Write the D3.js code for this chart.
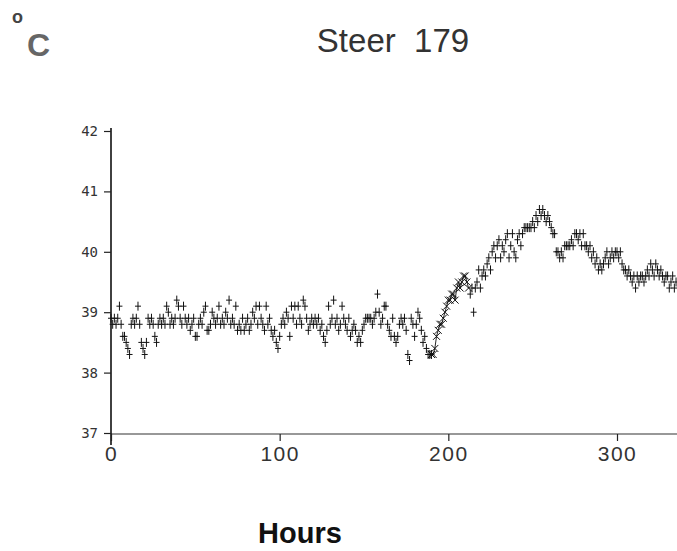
<!DOCTYPE html>
<html>
<head>
<meta charset="utf-8">
<script src="https://cdn.jsdelivr.net/npm/d3@7/dist/d3.min.js"></script>
<style>
  html, body { margin: 0; padding: 0; background: #fff; }
  svg { display: block; }
</style>
</head>
<body>
<svg id="chart" width="677" height="551"></svg>
<script>
// Rectal temperature of steer 179, hourly readings (°C)
const tempDay0  = [38.9,38.8,38.9,38.8,38.9,39.1,38.8,38.6,38.6,38.5,38.4,38.3,38.8,38.9,38.8,38.9,39.1,38.8,38.5,38.4,38.3,38.5,38.9,38.8];
const tempDay1  = [38.9,38.8,38.6,38.5,38.8,38.9,38.8,38.9,38.8,39.1,39.0,38.8,38.9,38.8,38.9,39.2,39.1,38.9,38.8,39.1,38.9,38.8,38.9,38.7];
const tempDay2  = [38.8,38.9,38.6,38.6,38.8,38.9,38.8,39.0,39.1,38.7,38.7,38.8,39.0,38.9,38.8,38.9,39.1,38.8,38.9,38.8,39.0,38.9,39.2,38.8];
const tempDay3  = [38.9,38.8,39.1,38.7,38.8,38.7,38.9,38.7,38.8,38.9,38.7,38.8,39.0,38.9,39.1,38.8,39.1,38.9,38.8,38.7,39.1,38.8,38.9,38.7];
const tempDay4  = [38.6,38.7,38.5,38.4,38.6,38.8,38.9,38.8,39.0,38.9,38.6,39.1,38.9,39.1,38.8,39.1,38.9,38.8,39.2,39.1,38.9,38.7,38.8,38.9];
const tempDay5  = [38.8,38.9,38.8,38.9,38.7,38.8,38.6,38.5,38.7,39.1,38.8,38.9,39.2,38.8,38.9,38.7,38.8,39.1,38.9,38.8,38.7,38.9,38.6,38.7];
const tempDay6  = [38.8,38.7,38.5,38.6,38.5,38.7,38.8,38.9,38.9,38.9,38.9,38.8,38.9,39.0,39.3,39.0,38.8,38.9,39.1,39.1,38.8,38.7,38.6,38.9];
const tempDay7  = [38.6,38.5,38.6,38.8,38.9,38.8,38.9,38.7,38.3,38.2,38.9,38.8,38.6,38.8,39.0,38.9,38.7,38.5,38.6,38.4,38.3,38.3,38.3];
// hours 213 onward
const tempLate  = [39.3,39.4,39.0,39.4,39.5,39.7,39.4,39.6,39.7,39.6,39.8,39.9,39.7,40.0,40.1,39.9,40.1,40.2,39.9,40.1,40.0,40.2,40.3,39.9,40.1,40.3,40.0,
                   39.9,40.2,40.3,40.1,40.3,40.4,40.4,40.4,40.4,40.4,40.5,40.4,40.6,40.5,40.7,40.6,40.7,40.6,40.5,40.6,40.5,40.4,40.3,40.3,
                   40.0,40.0,39.9,40.0,39.9,40.1,40.1,40.1,40.1,40.2,40.1,40.3,40.3,40.2,40.3,40.1,40.3,40.1,40.1,40.0,40.1,39.9,40.0,39.8,
                   39.9,39.7,39.8,39.7,39.8,39.9,40.0,39.8,39.9,40.0,39.9,40.0,40.0,39.9,40.0,39.8,39.7,39.7,39.6,39.7,39.6,39.5,39.6,39.4,
                   39.6,39.5,39.6,39.6,39.5,39.6,39.7,39.6,39.8,39.7,39.6,39.8,39.7,39.6,39.7,39.6,39.5,39.6,39.6,39.4,39.5,39.6,39.4,39.5];
const lateStartHour = 213;

// Onset of the febrile rise, hours 190-212, plotted with a second symbol
const riseHours = [190,191,192,193,194,195,196,197,198,199,200,201,202,203,204,205,206,207,208,209,210,211,212];
const riseTemps = [38.3,38.3,38.4,38.6,38.7,38.8,38.8,38.9,39.0,39.1,39.2,39.2,39.3,39.3,39.2,39.4,39.5,39.4,39.5,39.6,39.6,39.5,39.4];

const xTicks = [0, 100, 200, 300];
const xTickLabels = ["0", "100", "200", "300"];
const yTicks = [37, 38, 39, 40, 41, 42];
const yTickLabels = ["37", "38", "39", "40", "41", "42"];

const title = "Steer  179";
const xTitle = "Hours";

const early = [].concat(tempDay0, tempDay1, tempDay2, tempDay3, tempDay4, tempDay5, tempDay6, tempDay7);
const plusPoints = early.map((v, i) => ({ h: i, t: v }))
  .concat(tempLate.map((v, i) => ({ h: lateStartHour + i, t: v })));
const crossPoints = riseHours.map((h, i) => ({ h: h, t: riseTemps[i] }));

const svg = d3.select("#chart");

const x = d3.scaleLinear().domain([0, 300]).range([111, 617]);
const y = d3.scaleLinear().domain([37, 42]).range([433, 131]);
const xEnd = 677;

// axis lines
svg.append("line")
  .attr("x1", x(0)).attr("x2", xEnd)
  .attr("y1", y(37) + 1).attr("y2", y(37) + 1)
  .attr("stroke", "#333").attr("stroke-width", 1.1);
svg.append("line")
  .attr("x1", x(0)).attr("x2", x(0))
  .attr("y1", y(42) - 3).attr("y2", y(37) + 12)
  .attr("stroke", "#111").attr("stroke-width", 1.6);

// y axis ticks and labels
const yAxis = d3.axisLeft(y)
  .tickValues(yTicks)
  .tickSize(7)
  .tickSizeOuter(0)
  .tickPadding(6)
  .tickFormat((d, i) => yTickLabels[i]);
const gy = svg.append("g").attr("transform", `translate(${x(0)},0)`).call(yAxis);
gy.select(".domain").remove();
gy.selectAll(".tick line").attr("stroke", "#222").attr("stroke-width", 1.2);
gy.selectAll(".tick text")
  .attr("fill", "#333")
  .style("font-family", "'DejaVu Sans Mono', monospace")
  .style("font-size", "14px");

// x axis ticks and labels
const xAxis = d3.axisBottom(x)
  .tickValues(xTicks)
  .tickSize(7)
  .tickSizeOuter(0)
  .tickPadding(5)
  .tickFormat((d, i) => xTickLabels[i]);
const gx = svg.append("g").attr("transform", `translate(0,${y(37) + 1})`).call(xAxis);
gx.select(".domain").remove();
gx.selectAll(".tick line").attr("stroke", "#222").attr("stroke-width", 1.2);
gx.selectAll(".tick text")
  .attr("fill", "#333")
  .style("font-family", "'Liberation Sans', Arial, sans-serif")
  .style("font-size", "21px")
  .style("letter-spacing", "1.5px");

// connecting trace through the rise
svg.append("path")
  .datum(crossPoints)
  .attr("fill", "none")
  .attr("stroke", "#111")
  .attr("stroke-width", 0.9)
  .attr("d", d3.line().x(d => x(d.h)).y(d => y(d.t)));

// rise readings as crosses
svg.append("g").selectAll("path")
  .data(crossPoints)
  .join("path")
  .attr("transform", d => `translate(${x(d.h)},${y(d.t)})`)
  .attr("d", "M-3.5,-3.5L3.5,3.5M-3.5,3.5L3.5,-3.5")
  .attr("stroke", "#111")
  .attr("stroke-width", 1)
  .attr("fill", "none");

// hourly readings as plus signs
svg.append("g").selectAll("path")
  .data(plusPoints)
  .join("path")
  .attr("transform", d => `translate(${x(d.h)},${y(d.t)})`)
  .attr("d", "M-3,0H3M0,-4.5V4.5")
  .attr("stroke", "#111")
  .attr("stroke-width", 1)
  .attr("fill", "none");

// title
svg.append("text")
  .attr("x", 393).attr("y", 52)
  .attr("text-anchor", "middle")
  .attr("fill", "#333")
  .style("font-family", "'Liberation Sans', Arial, sans-serif")
  .style("font-size", "33px")
  .style("white-space", "pre")
  .text(title);

// unit label: degree sign above C
svg.append("text")
  .attr("x", 12).attr("y", 23)
  .attr("fill", "#444")
  .style("font-family", "'Liberation Sans', Arial, sans-serif")
  .style("font-size", "18px")
  .style("font-weight", "bold")
  .text("o");
svg.append("text")
  .attr("x", 27).attr("y", 56)
  .attr("fill", "#666")
  .style("font-family", "'Liberation Sans', Arial, sans-serif")
  .style("font-size", "32px")
  .style("font-weight", "bold")
  .text("C");

// x axis title
svg.append("text")
  .attr("x", 300).attr("y", 543)
  .attr("text-anchor", "middle")
  .attr("fill", "#111")
  .style("font-family", "'Liberation Sans', Arial, sans-serif")
  .style("font-size", "29px")
  .style("font-weight", "bold")
  .text(xTitle);
</script>
</body>
</html>
